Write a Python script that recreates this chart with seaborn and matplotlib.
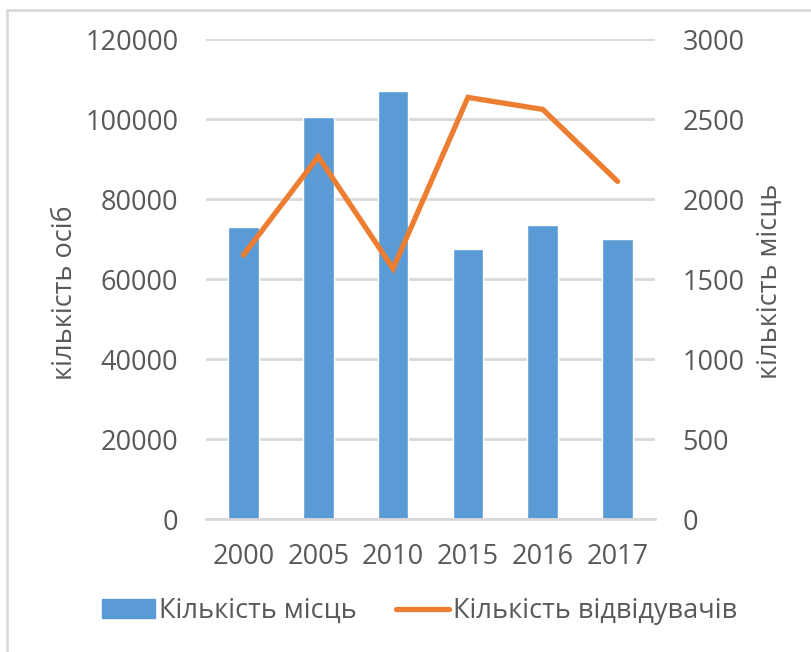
import matplotlib
matplotlib.use("Agg")
import matplotlib.pyplot as plt
import seaborn as sns
import pandas as pd
import numpy as np
from matplotlib.patches import Patch
from matplotlib.lines import Line2D

years = ["2000", "2005", "2010", "2015", "2016", "2017"]
places = [73000, 100500, 107000, 67600, 73600, 70000]
visitors = [1650, 2265, 1565, 2635, 2560, 2110]
left_ticks = [0, 20000, 40000, 60000, 80000, 100000, 120000]
right_ticks = [0, 500, 1000, 1500, 2000, 2500, 3000]
bar_label = "Кількість місць"
line_label = "Кількість відвідувачів"
left_axis_label = "кількість осіб"
right_axis_label = "кількість місць"

sns.set_theme(style="white")
plt.rcParams["font.family"] = ["Open Sans", "DejaVu Sans"]

TXT = "#595959"
GRID = "#d9d9d9"
BAR = "#5b9bd5"
LINE = "#ed7d31"
FS = 19.5
LW = 3.8

df = pd.DataFrame({"year": years, "places": places, "visitors": visitors})

fig = plt.figure(figsize=(8.11, 6.52), dpi=100)
ax = fig.add_axes([206 / 811, 1 - 519 / 652, 449 / 811, 480 / 652])

sns.barplot(data=df, x="year", y="places", color=BAR, width=0.41,
            saturation=1, ax=ax, zorder=2)
ax.set_ylim(0, 120000)
ax.set_yticks(left_ticks)
ax.set_yticklabels([str(t) for t in left_ticks])
ax.yaxis.grid(True, color=GRID, linewidth=2)
ax.set_axisbelow(True)
for s in ["top", "right", "left"]:
    ax.spines[s].set_visible(False)
ax.spines["bottom"].set_color(GRID)
ax.spines["bottom"].set_linewidth(2)
ax.set_xlabel("")
ax.set_ylabel("")
ax.tick_params(axis="both", length=0, labelsize=FS, colors=TXT)
ax.tick_params(axis="y", pad=20)
ax.tick_params(axis="x", pad=17)

ax2 = ax.twinx()
sns.lineplot(data=df, x="year", y="visitors", color=LINE, linewidth=LW,
             sort=False, ax=ax2, solid_capstyle="round", solid_joinstyle="miter")
ax2.set_ylim(0, 3000)
ax2.set_yticks(right_ticks)
ax2.set_yticklabels([str(t) for t in right_ticks])
for s in ["top", "right", "left", "bottom"]:
    ax2.spines[s].set_visible(False)
ax2.set_xlabel("")
ax2.set_ylabel("")
ax2.tick_params(axis="y", length=0, labelsize=FS, colors=TXT, pad=20)
ax2.grid(False)
ax.set_xlim(-0.5, len(years) - 0.5)

fig.text(65 / 811, 1 - 293 / 652, left_axis_label, rotation=90, ha="center",
         va="center", fontsize=FS, color=TXT)
fig.text(770 / 811, 1 - 281 / 652, right_axis_label, rotation=90, ha="center",
         va="center", fontsize=FS, color=TXT)

handles = [Patch(facecolor=BAR, edgecolor=BAR),
           Line2D([0], [0], color=LINE, linewidth=LW, solid_capstyle="round")]
fig.legend(handles, [bar_label, line_label], loc="center",
           bbox_to_anchor=(420 / 811, 1 - 611 / 652), ncol=2, frameon=False,
           fontsize=FS, labelcolor=TXT, handlelength=1.95, handleheight=0.7,
           handletextpad=0.15, columnspacing=1.45)

fig.add_artist(Line2D([7 / 811, 1], [1 - 10 / 652, 1 - 10 / 652],
                      transform=fig.transFigure, color=GRID, linewidth=2))
fig.add_artist(Line2D([7 / 811, 7 / 811], [0, 1 - 10 / 652],
                      transform=fig.transFigure, color=GRID, linewidth=2))

fig.savefig("out.png", dpi=100, facecolor="white")
